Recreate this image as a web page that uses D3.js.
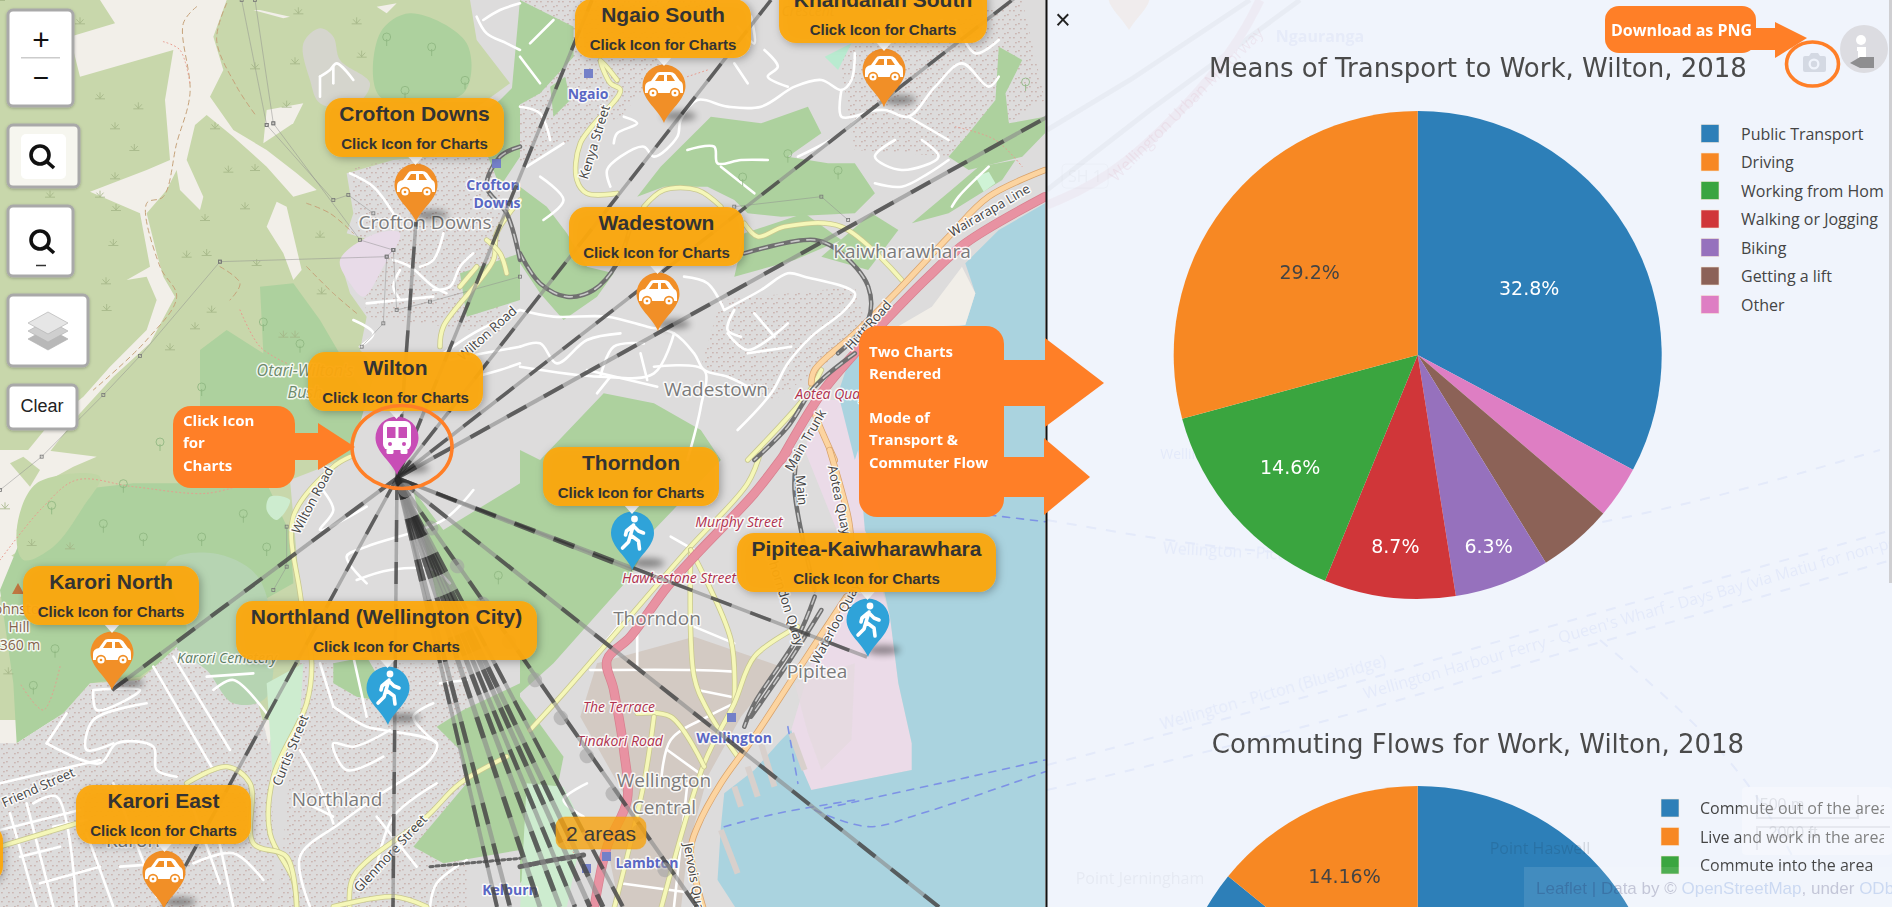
<!DOCTYPE html>
<html><head><meta charset="utf-8">
<script src="https://cdn.jsdelivr.net/npm/d3@7/dist/d3.min.js"></script>
<style>html,body{margin:0;padding:0;background:#fff;overflow:hidden}svg{display:block}text{white-space:pre}</style>
</head><body><svg id="c" width="1892" height="911" viewBox="0 0 1892 911"></svg>
<script>
// ---------- chart values ----------
const transportLabels=["Public Transport","Driving","Working from Home","Walking or Jogging","Biking","Getting a lift","Other"];
const transportValues=[32.8,29.2,14.6,8.7,6.3,4.95,3.45];
const transportSliceOrder=[0,6,5,4,3,2,1];
const transportShown=[true,true,true,true,true,false,false];
const flowLabels=["Commute out of the area","Live and work in the area","Commute into the area"];
const flowValues=[85.84,14.16,0];
const flowSliceOrder=[0,2,1];
const flowShown=[false,true,false];
const sliceColors=["#2d7fb8","#f78823","#3aa53f","#d03639","#9671bd","#8c6257","#de7ec3"];
const areaNames=["Crofton Downs","Ngaio South","Khandallah South","Wadestown","Wilton","Thorndon","Pipitea-Kaiwharawhara","Karori North","Northland (Wellington City)","Karori East"];
const areaModes=["car","car","car","car","bus","walk","walk","car","walk","car"];
const modeColors={car:"#f18f27",bus:"#c84db6",walk:"#2fa3d9"};

// ---------- map scales (tile space to page) ----------
const xW=d3.scaleLinear([0,1560],[0,520]),xE=d3.scaleLinear([0,1568],[520,1045]),yN=d3.scaleLinear([0,1380],[0,460]),yS=d3.scaleLinear([0,1383],[450,911]);
const Q={nw:[xW,yN],ne:[xE,yN],sw:[xW,yS],se:[xE,yS]};
const P=(q,a)=>{const r=[];for(let i=0;i<a.length;i+=2)r.push([Q[q][0](a[i]),Q[q][1](a[i+1])]);return r;};
const svg=d3.select("#c");
const defs=svg.append("defs");
const blur=(id,s)=>{const f=defs.append("filter").attr("id",id).attr("x","-50%").attr("y","-80%").attr("width","200%").attr("height","260%");f.append("feGaussianBlur").attr("stdDeviation",s);};
blur("b4",3.5);
const sh=defs.append("filter").attr("id","ds").attr("x","-20%").attr("y","-30%").attr("width","140%").attr("height","170%");
sh.append("feDropShadow").attr("dx",2).attr("dy",2).attr("stdDeviation",4).attr("flood-color","#000").attr("flood-opacity",.3);
const ctl=defs.append("filter").attr("id","cs").attr("x","-20%").attr("y","-20%").attr("width","140%").attr("height","140%");
ctl.append("feDropShadow").attr("dx",0).attr("dy",1).attr("stdDeviation",1.5).attr("flood-color","#000").attr("flood-opacity",.25);
defs.append("clipPath").attr("id","mapClip").append("rect").attr("width",1047).attr("height",907);
defs.append("clipPath").attr("id","panelClip").append("rect").attr("x",1047).attr("width",845).attr("height",907);
defs.append("clipPath").attr("id","legClip").append("rect").attr("x",1047).attr("width",837).attr("height",907);
const bld=defs.append("pattern").attr("id","bld").attr("width",11).attr("height",9).attr("patternUnits","userSpaceOnUse");
[[1,1],[6,5],[8,1],[3,6]].forEach(d=>bld.append("rect").attr("x",d[0]).attr("y",d[1]).attr("width",1.8).attr("height",1.4).attr("fill","#c4aaa5"));

const map=svg.append("g").attr("clip-path","url(#mapClip)");
map.append("rect").attr("width",1047).attr("height",911).attr("fill","#f2efe9");
const poly=(pts,c,o)=>map.append("path").attr("d",d3.line()(pts)+"Z").attr("fill",c).attr("opacity",o==null?1:o);
const blob=(pts,c,o)=>map.append("path").attr("d",d3.line().curve(d3.curveCatmullRomClosed.alpha(.5))(pts)).attr("fill",c).attr("opacity",o==null?1:o);
const curve=d3.line().curve(d3.curveCatmullRom.alpha(.5));
const road=(pts,c,w,extra)=>{const p=map.append("path").attr("d",curve(pts)).attr("fill","none").attr("stroke",c).attr("stroke-width",w).attr("stroke-linecap","round").attr("stroke-linejoin","round");if(extra)p.attr("stroke-dasharray",extra);return p;};

// land cover
const scrub="#c8d7ab",wood="#add19e",urban="#dddcdc";
map.append("rect").attr("width",560).attr("height",720).attr("fill",scrub);
poly(P('nw',[300,0,680,0,640,110,670,210,630,290,700,390,800,450,890,520,950,570,880,590,800,500,700,410,620,345,585,375,560,480,610,590,600,630,540,570,530,510,500,570,440,640,470,760,490,830,525,890,450,1030,340,1130,240,1240,130,1380,60,1380,150,1270,250,1190,330,1100,440,990,470,900,440,830,380,840,450,800,420,640,270,575,440,510,510,480,495,300,520,150,240,230,210,110,345,70]),"#f2efe9");
poly(P('nw',[800,330,910,310,880,370,790,430]),"#f2efe9");
poly(P('nw',[800,680,830,605,860,620,905,810,880,840,850,760]),"#f2efe9");
poly(P('nw',[780,30,870,50,850,55,760,30]),"#f2efe9");
poly(P('nw',[1130,20,1190,10,1160,40]),"#f2efe9");
poly(P('sw',[0,0,130,0,290,20,220,50,130,100,50,240,60,300,0,340]),"#f2efe9");
poly(P('sw',[0,300,60,330,60,420,0,440]),"#f2efe9");
poly(P('sw',[30,40,70,20,120,60,90,110]),scrub);
// woods
blob(P('nw',[1140,100,1230,40,1400,130,1390,280,1140,290]),wood);
poly(P('nw',[780,860,880,850,960,960,1030,1080,1130,1240,1240,1380,700,1380,600,1330,600,1050,680,990,790,1060]),wood);
poly(P('sw',[140,130,400,100,800,100,870,250,880,400,560,580,420,680,270,700,190,790,50,880,40,700,0,420,70,250,110,190]),wood);
blob(P('sw',[50,240,110,100,300,80,250,170,160,290,70,330]),"#c0d6a5");
// urban
poly([...P('nw',[1410,0]),[1047,0],[1047,911],...P('sw',[810,1383,800,900,900,640,900,430,880,200,870,90,1050,20]),...P('nw',[1130,1100,1080,1050,1100,950,1050,880,1020,780,1180,740,1040,700,1060,640,1040,520,1180,480,1300,470,1420,330,1530,250,1430,120])],urban);
poly(P('sw',[0,880,50,880,190,790,270,700,420,690,530,590,620,660,770,740,810,900,830,1383,0,1383]),urban);
const textured=[P('sw',[0,880,50,880,190,790,270,700,420,690,530,590,620,660,770,740,810,900,830,1383,0,1383]),
 P('sw',[900,640,1400,640,1400,1383,830,1383]),P('ne',[600,900,1000,860,1040,1000,760,1200,540,1100]),P('ne',[0,0,600,0,300,350,0,500]),P('ne',[950,150,1500,0,1568,300,1300,470,1000,450]),P('nw',[1050,500,1500,440,1500,1000,1100,950])];
textured.forEach(t=>poly(t,"url(#bld)",.75));
blob(P('sw',[500,340,640,310,780,390,800,740,700,760,620,660,530,590,560,540]),"#b6d4b2");
poly(P('sw',[800,700,910,640,900,800,820,1000]),"#cdeccf");
blob(P('sw',[810,140,870,150,830,210,800,180]),"#cdeccf");
blob(P('nw',[910,130,960,85,1000,110,1020,180,1110,250,1060,320,960,310,930,240]),"#d5d5cd");
blob(P('nw',[1020,780,1130,700,1200,700,1150,800,1090,890,1050,850]),"#e8dbe8");
// hills over suburbs
const hills=[
 P('ne',[350,590,420,500,570,350,720,370,860,320,900,400,800,470,920,490,1000,490,1060,580,1000,640,780,650,680,640,640,600,560,560,430,560]),
 P('ne',[1430,140,1500,180,1450,280,1460,370,1568,350,1568,400,1500,470,1340,510,1280,470,1340,400,1420,300]),
 P('ne',[1170,670,1300,560,1370,500,1480,480,1440,540,1280,640]),
 P('ne',[0,0,160,80,160,170,60,280,-30,330]),
 P('ne',[90,260,135,230,150,300,100,350]),
 P('ne',[0,560,80,620,140,700,200,800,280,820,230,890,130,960,60,880,0,790]),
 P('ne',[670,700,850,640,960,720,820,780,640,830]),
 P('ne',[1050,640,1130,690,1040,810,900,770]),
 [...P('ne',[60,1380,250,1180,400,1210,540,1290,600,1380]),...P('se',[400,240,330,380,100,640,0,730,0,0])],
 P('sw',[1240,120,1330,240,1560,100,1560,500,1310,440]),
 P('sw',[1310,830,1390,780,1560,700,1560,1200,1330,1240,1240,1190,1400,1000,1380,900]),
 P('se',[0,740,130,920,110,1020,50,1240,0,1300]),
 P('sw',[1000,640,1100,620,1180,760,1070,740,1000,700]),
 P('nw',[1380,820,1560,760,1560,900,1400,950]),
 P('nw',[1420,360,1500,300,1560,240,1560,470,1500,560]),
];
hills.forEach(h=>poly(h,wood));
poly(P('se',[20,1000,130,1010,190,1130,140,1370,0,1383]),"#cdeccf");
poly(P('ne',[910,170,990,130,950,210]),"#b9ebd0");
poly(P('ne',[1360,530,1400,515,1420,550,1385,575]),"#cff3d6");
// cbd, port, water
poly(P('se',[230,640,520,560,780,650,660,800,560,980,500,1200,480,1383,300,1383,260,1190,320,1050,180,800]),"#d3cac3");
poly([...P('ne',[900,1200,1000,1200,1100,1380]),...P('se',[1030,240,1105,500,1130,700,1170,880,1170,960,870,1020,840,950,810,840,870,640,980,440,950,250,850,0])],"#ebdbe8");
poly(P('se',[820,700,1000,640,990,870,900,960,860,850]),"#e4dade",.7);
poly([...P('ne',[1568,610,1430,690,1330,790,1360,880,1330,975,1000,1030,950,1180,1000,1380]),...P('se',[1010,0,1030,240,1060,300,1105,500,1130,700,1170,880,1170,960,870,1020,840,950,810,840,780,870,700,960,610,1030,600,1130,590,1290,650,1383,1568,1383])],"#aad3df");
poly(P('ne',[1320,800,1360,880,1330,975,1120,985,1230,920]),"#f1eee8");
[[720,880,760,1010],[680,950,710,1040],[640,1010,660,1070],[600,1140,650,1270],[810,850,850,960]].forEach(a=>map.append("path").attr("d",d3.line()(P('se',a))).attr("stroke","#d8d0cc").attr("stroke-width",6));

// minor roads
const whiteRoads=[
 ['nw',[960,230,990,210,1010,190,1060,240]],['nw',[960,230,960,290]],['nw',[1000,200,1000,250]],
 ['nw',[1180,780,1230,800,1300,860,1340,880]],['nw',[1330,700,1300,780,1260,800]],['nw',[1100,910,1200,900,1300,890]],['nw',[1200,810,1180,860,1200,900]],['nw',[1420,760,1380,800,1350,860,1300,870]],
 ['nw',[1430,50,1460,100,1520,130,1560,150]],['nw',[1450,60,1500,30,1560,10]],['nw',[1330,1060,1420,1000,1560,930]],['nw',[1350,1080,1450,1060,1560,1040]],['nw',[1430,1130,1500,1110,1560,1090]],['nw',[1050,520,1120,560,1180,640]],['nw',[1060,960,1120,1000,1080,1040]],
 ['ne',[270,560,260,510,300,470,370,440,400,470,470,410,480,360,530,300,620,320,720,320,820,260,900,240,960,270,990,240,1000,160]],
 ['ne',[640,190,680,250]],['ne',[730,150,770,200,740,230,800,260]],['ne',[830,470,960,400,1030,340,1090,330,1160,350,1240,260,1320,190,1400,260,1430,230]],
 ['ne',[1030,340,960,350,960,270]],['ne',[1160,350,1280,420]],['ne',[1120,420,1060,470,1140,510,1250,470,1200,420]],['ne',[500,450,580,440,590,490,660,480,740,480]],['ne',[600,500,700,580]],
 ['ne',[310,350,350,370,290,400,280,430]],['ne',[60,530,130,600,70,660]],['ne',[20,500,130,430]],['ne',[1060,550,1140,560,1220,520,1280,480]],
 ['ne',[0,930,100,950,260,950,380,980,460,1000,520,1060,550,1110,620,1130,700,1170]],['ne',[0,1040,60,1030,110,1090,200,1020,300,1000]],
 ['ne',[610,930,720,870,800,820,850,830,1000,880,970,930,870,1010,800,1090,750,1180,650,1290]],['ne',[810,1040,680,1060]],['ne',[400,1100,550,1110,540,1220,500,1380]],
 ['ne',[460,1000,400,1120,240,1130,0,1100]],['ne',[240,1130,280,1040,370,1030]],['ne',[490,830,560,850,610,930]],['ne',[640,930,620,990,660,1010]],
 ['ne',[0,170,60,250]],['ne',[0,320,60,340,90,420]],['ne',[1400,500,1310,590,1290,620]],
 ['ne',[620,1000,680,1050,800,970]],['ne',[700,940,760,1010]],['ne',[360,1060,380,1140]],['ne',[200,1110,410,1160]],['ne',[270,1130,230,1180]],['ne',[30,130,100,60]],['ne',[1300,60,1360,160,1430,120]],['ne',[1100,60,1180,110,1260,60]],['ne',[650,80,700,130,690,50]],
 ['sw',[140,880,200,790]],['sw',[280,720,420,720,290,780,280,720]],['sw',[440,760,280,810,260,900,340,880]],['sw',[140,880,300,940,350,880,460,890,470,960,530,980]],['sw',[0,1000,300,930]],
 ['sw',[460,650,640,960]],['sw',[520,620,690,900]],['sw',[30,1090,110,1370]],['sw',[80,1060,160,1370]],['sw',[100,1060,170,1040,230,1370]],['sw',[260,1150,340,1370]],['sw',[650,1140,700,1370]],['sw',[620,680,760,670]],['sw',[640,720,700,690,800,790]],['sw',[0,1140,240,1080]],['sw',[360,1250,500,1240]],['sw',[580,1240,700,1210,790,1290]],
 ['sw',[560,1020,660,1300]],['sw',[160,1130,260,1110]],['sw',[60,1220,180,1190]],['sw',[120,1300,300,1250]],['sw',[340,1000,470,1340]],
 ['sw',[1000,770,1100,830,1150,840,1310,880,1290,930,1130,1040,1020,1120,900,1220,930,1370]],['sw',[1170,840,1060,890,1000,880,1040,960,1150,920]],['sw',[900,900,950,990,1000,1120]],['sw',[1300,760,1240,800,1310,880]],
 ['sw',[960,640,1000,770]],['sw',[1060,620,1100,800]],['sw',[1310,1000,1180,1100,1130,1250]],['sw',[900,1050,1000,1100]],['sw',[1130,1100,1250,1250]],
 ['sw',[1420,120,1330,210,1100,290,1040,320,1100,400]],['sw',[1070,390,1170,360,1300,360,1350,400]],['sw',[960,110,1000,180,960,240,1100,170]],['sw',[1320,700,1400,690]],['sw',[1400,1230,1310,1300,1290,1370]],
 ['se',[210,660,520,660,640,665]],['se',[350,540,350,660]],['se',[520,530,640,580]],['se',[530,720,630,740]],['se',[640,760,560,800,450,870,420,1010]],['se',[440,900,550,980]],['se',[500,1000,460,1370]],['se',[300,1300,520,1330]],['se',[200,1000,130,1050,190,1100]],['se',[450,260,520,300]],['se',[220,620,300,520]]
];
whiteRoads.forEach(r=>road(P(r[0],r[1]),"#fff",2.6));

// field paths and power lines
const tracks=[['nw',[680,10,650,120,710,260,770,350]],['nw',[590,20,550,70,570,280,530,430,490,590,440,610,480,800,530,890,440,1020,280,1170]],['nw',[660,800,720,850,690,900]],['nw',[920,610,990,640,1060,700]],['nw',[920,800,1000,880,1070,940]]];
tracks.forEach(t=>road(P(t[0],t[1]),"#c6a27a",1,"5 4"));
const redPaths=[['nw',[490,125,540,150,570,250]],['nw',[720,930,780,1040,860,1090]],['sw',[0,330,130,170,230,90,400,110,620,130,740,100]],['sw',[180,650,130,780,60,700]],['ne',[1300,380,1420,420,1500,500]],['ne',[500,230,560,210]],['se',[100,1130,200,1260]]];
redPaths.forEach(t=>road(P(t[0],t[1]),"#e99a8e",1,"1 3"));
const powerLines=[['nw',[725,0,800,375]],['nw',[765,0,820,370]],['nw',[820,370,1080,720,1180,750]],['nw',[800,375,1000,600,1045,585,1120,640]],['nw',[660,785,1160,770,1180,750]],['nw',[660,785,420,1068,310,1185,125,1370,0,1470]],['nw',[1180,750,1190,930,1290,905,1560,830]],['nw',[1160,770,1150,970,1085,1040]],['ne',[640,620,900,590,980,660]],['sw',[860,230,860,350,820,420]]];
powerLines.forEach(l=>{const pp=P(l[0],l[1]);map.append("path").attr("d",d3.line()(pp)).attr("fill","none").attr("stroke","#8d8d8d").attr("opacity",.6).attr("stroke-width",.8);
 map.selectAll(null).data(pp).enter().append("rect").attr("x",d=>d[0]-1.5).attr("y",d=>d[1]-1.5).attr("width",3).attr("height",3).attr("fill","none").attr("stroke","#777").attr("stroke-width",.8);});
// vegetation glyphs
const grass=P('nw',[300,295,415,325,345,385,403,450,345,535,348,630,300,590,150,590,340,735,320,930,318,850,560,770,620,765,615,660,735,625,685,515,765,510,645,385,765,205,885,190,1085,170,1070,70,895,40,240,70,770,795,510,1048,585,985,635,935,965,880,885,1010,960,710,860,320,850,1010,885]).concat(P('sw',[15,175,95,285,210,295,25,670]));
map.selectAll(null).data(grass).enter().append("path").attr("transform",d=>`translate(${d})`).attr("d","M0,0V-6M0,0L-3.5,-4M0,0L3.5,-4M-5,.5H5").attr("stroke","#a3b587").attr("stroke-width",.8).attr("fill","none");
const trees=P('nw',[1160,120,1295,150,1395,250,1215,280,790,975,900,1040,605,1170,480,1335]).concat(P('sw',[370,110,155,175,430,270,605,270,730,200,800,300,1495,385,165,605,100,715,310,230])).concat(P('ne',[1510,255,950,520,800,470,665,540]));
map.selectAll(null).data(trees).enter().append("path").attr("transform",d=>`translate(${d})`).attr("d","M0,6V-1M-4,-3a4,4 0 1 1 8,0a4,4 0 1 1 -8,0").attr("stroke","#8db57f").attr("stroke-width",.8).attr("fill","none");

// secondary, trunk, motorway, rail
const yellowRoads=[
 ['sw',[1050,20,1000,50,880,200,900,430,935,640,920,760,820,980,810,1150,880,1290,890,1370]],['sw',[1520,920,1380,1000,1280,1100,1060,1280,1050,1380]],
 ['sw',[0,1190,230,1120]],['sw',[560,1000,680,950,750,1000,760,1180,860,1220,890,1370]],['sw',[1000,1370,1180,1340,1280,1370]],
 ['ne',[290,240,240,180,270,250,300,270,180,430,170,540,200,580,290,580]],['ne',[370,620,430,570,530,570,600,620]],['ne',[670,670,710,710,790,680,960,680,1140,840]],
 ['se',[720,0,680,100,500,300,130,730,30,840]],['se',[510,300,520,680,560,780,650,920]],['se',[510,300,630,570,640,760]],['se',[830,530,700,620,640,760,550,940,420,1380]],['se',[350,790,450,800,550,950]],['se',[400,800,370,1000,280,1380]],
 ['ne',[680,1380,860,1180,900,1110]],['nw',[1560,600,1490,700,1480,780,1330,980,1320,1040]],['nw',[1380,860,1430,800]],['nw',[1460,720,1500,760,1520,820]],
];
yellowRoads.forEach(r=>{road(P(r[0],r[1]),"#c9c88f",5.4);road(P(r[0],r[1]),"#f5f7b8",3.8);});
const trunks=[['ne',[1568,510,1400,590,1280,710,1130,870,1000,1000,880,1110,870,1150]],['ne',[880,1240,900,1290,940,1380]],['se',[925,0,980,200,990,280]],['se',[975,440,850,630,700,860,600,1000,530,1130,510,1200,550,1383]]];
trunks.forEach(r=>{road(P(r[0],r[1]),"#d9a36b",6.5);road(P(r[0],r[1]),"#fcd4a0",5);});
const motorway=[...P('ne',[1568,590,1330,730,1220,830,1150,900,1000,1060,900,1180,780,1380]),...P('se',[800,0,700,130,530,310,440,410,330,560,260,630,280,720,310,900,320,1050,260,1190,220,1383])];
road(motorway,"#d8808f",9.5);road(motorway,"#e892a2",8);
const rails=[['ne',[0,760,60,850,140,890,220,870,290,790,330,680]],['ne',[670,760,880,720,960,760,1040,860,1040,960,950,1060]],['nw',[1560,440,1500,470,1460,560,1520,640,1560,780]],['ne',[1000,1060,880,1160,800,1280,700,1380]],['se',[880,440,830,560,700,760,670,830]],['se',[900,480,800,640,690,800]],['se',[830,0,820,120,880,420]]];
rails.forEach(r=>{road(P(r[0],r[1]),"#707070",4.5);road(P(r[0],r[1]),"#c9c9c9",1.6,"8 8");});
road(P('sw',[1290,1250,1560,1225]),"#666",3,"3 3");
road(P('se',[0,1250,100,1230,190,1215]),"#666",5,"4 3");
// ferries in harbour
[[1400,195,1568,215],[610,1130,770,1090,1000,1050],[910,1075,1300,990,1568,930],[880,1080,1040,1130,1200,1090,1568,965],[800,830,830,1000]].forEach(a=>road(P('se',a),"#7d92e6",1.6,"7 7"));

// place names
const tx=(g,s,x,y,o)=>{o=o||{};const t=g.append("text").attr("x",x).attr("y",y).attr("text-anchor",o.a||"middle").attr("dominant-baseline","central").attr("font-family",o.f||"'Open Sans',sans-serif").attr("font-size",o.s||18).attr("fill",o.c||"#777").attr("font-weight",o.w||400).text(s);if(o.i)t.attr("font-style","italic");if(o.r)t.attr("transform",`rotate(${o.r} ${x} ${y})`);if(o.h)t.attr("stroke",o.h).attr("stroke-width",3).attr("paint-order","stroke").attr("stroke-linejoin","round");if(o.o!=null)t.attr("opacity",o.o);return t;};
const H="rgba(255,255,255,.85)";
[["Crofton Downs",425,222],["Wadestown",716,389],["Kaiwharawhara",902,251],["Thorndon",657,618],["Pipitea",817,671],["Wellington",664,780],["Central",664,807],["Northland",337,799],["Karori",133,840]].forEach(d=>tx(map,d[0],d[1],d[2],{h:H,s:19,c:"#7b7b7b"}));
[["Ngaio",588,93],["Crofton",493,184],["Downs",497,202],["Wellington",734,737],["Lambton",647,862],["Kelburn",510,889]].forEach(d=>tx(map,d[0],d[1],d[2],{c:"#5a67c4",s:14,w:700,h:H}));
[["Hawkestone Street",679,577,0],["Murphy Street",739,521,0],["The Terrace",619,706,0],["Tinakori Road",620,740,0],["Aotea Quay",831,393,0]].forEach(d=>tx(map,d[0],d[1],d[2],{c:"#b0324f",s:14,i:1,h:H,r:d[3]}));
[["Kenya Street",594,142,-73],["Wilton Road",487,333,-42],["Wilton Road",312,500,-62],["Hutt Road",868,325,-48],["Wairarapa Line",989,210,-30],["Waterloo Quay",835,623,-62],["Thorndon Quay",786,600,72],["Aotea Quay",840,500,78],["Curtis Street",290,750,-68],["Friend Street",38,787,-24],["Glenmore Street",390,853,-47],["Jervois Quay",695,880,80],["Main Trunk",805,440,-60],["Main",802,490,85]].forEach(d=>tx(map,d[0],d[1],d[2],{c:"#444",s:13,h:H,r:d[3]}));
tx(map,"Karori Cemetery",227,657,{c:"#5e7d64",s:14,i:1,h:H});
tx(map,"Otari-Wilton's",305,370,{c:"#6d8a6c",s:16,i:1,h:H});
tx(map,"Bush",305,392,{c:"#6d8a6c",s:16,i:1,h:H});
tx(map,"Crescent",808,10,{c:"#777",s:14,i:1});
tx(map,"Johnston",19,608,{c:"#85634c",s:14,h:H});tx(map,"Hill",19,626,{c:"#85634c",s:14,h:H});tx(map,"360 m",20,644,{c:"#85634c",s:14,h:H});
map.append("path").attr("d","M18,583l6,11h-12z").attr("fill","#bf7640");
[[588,73],[496,163],[731,717],[586,868],[606,856]].forEach(d=>map.append("rect").attr("x",d[0]-4).attr("y",d[1]-4).attr("width",9).attr("height",9).attr("fill","#7480c8"));

// ---------- commuter flow lines ----------
const origin=[397,478];
const flowEnds=[[416,222,3.5],[592,0,3.5],[771,0,3.5],[1047,-27,3.5],[1047,117,4],[632,570,4],[867,657,3.5],[112,690,4],[163,907,3.5],[393,907,3.5],[939,907,4],
 [497,907,4],[510,907,4.5],[540,907,5],[560,907,5],[575,907,4.5],[590,907,5],[603,907,5],[623,907,4],[697,907,4]];
const flows=map.append("g");
const link=d=>d3.line()([origin,[d[0],d[1]]]);
flows.selectAll(".a").data(flowEnds).enter().append("path").attr("d",link).attr("stroke","#8a8a8a").attr("stroke-opacity",.62).attr("stroke-width",d=>d[2]).attr("fill","none");
flows.selectAll(".b").data(flowEnds).enter().append("path").attr("d",link).attr("stroke","#2c2c2c").attr("stroke-opacity",.6).attr("stroke-width",d=>d[2]).attr("stroke-dasharray","22 20").attr("fill","none");
const wideFlow=[690,907,14];
flows.append("path").attr("d",link(wideFlow)).attr("stroke","#a0a0a0").attr("stroke-opacity",.55).attr("stroke-width",wideFlow[2]).attr("stroke-linecap","round").attr("stroke-dasharray","1 45").attr("stroke-dashoffset",-60).attr("fill","none");

// ---------- pins ----------
const pinTips=[[416,222],[664,123],[884,107],[658,331],[397,475],[632.5,570],[868,657],[112,690],[388,725],[164,909]];
const pinPath="M0,0C-5,-13 -21.5,-23 -21.5,-37A21.5,21.5 0 1 1 21.5,-37C21.5,-23 5,-13 0,0Z";
const pins=map.append("g");
pins.selectAll(".s").data(pinTips).enter().append("ellipse").attr("cx",d=>d[0]+15).attr("cy",d=>d[1]-7).attr("rx",17).attr("ry",4.5).attr("fill","#000").attr("opacity",.42).attr("filter","url(#b4)");
const icon={
 car:(g,c)=>{g.append("path").attr("d","M-19,7V1Q-19,-4 -13,-5L-8,-12Q-7,-14 -4,-14H6Q9,-14 11,-12L16,-5Q19,-4 19,1V7Z").attr("fill","#fff");
  g.append("path").attr("d","M-9,-5L-5,-11H0V-5ZM3,-5V-11H7L11,-5Z").attr("fill",c);
  [-11,11].forEach(x=>{g.append("circle").attr("cx",x).attr("cy",7).attr("r",5.2).attr("fill",c);g.append("circle").attr("cx",x).attr("cy",7).attr("r",3.6).attr("fill","#fff");g.append("circle").attr("cx",x).attr("cy",7).attr("r",1.3).attr("fill",c);});},
 bus:(g,c)=>{g.append("rect").attr("x",-14).attr("y",-17).attr("width",28).attr("height",29).attr("rx",6).attr("fill","#fff");
  g.append("rect").attr("x",-10).attr("y",-11).attr("width",8.5).attr("height",11).attr("fill",c);g.append("rect").attr("x",1.5).attr("y",-11).attr("width",8.5).attr("height",11).attr("fill",c);
  [-7,7].forEach(x=>{g.append("circle").attr("cx",x).attr("cy",6).attr("r",2).attr("fill",c);g.append("rect").attr("x",x-3.5).attr("y",11).attr("width",7).attr("height",5).attr("rx",1.5).attr("fill","#fff");});},
 walk:(g,c)=>{g.append("circle").attr("cx",2).attr("cy",-14).attr("r",3.4).attr("fill","#fff");
  g.append("path").attr("d","M1,-8L-2,2L6,8L7,16M-2,2L-4,9L-10,15M0,-7L-6,-2L-7,2M1,-7L6,-2L11,0").attr("fill","none").attr("stroke","#fff").attr("stroke-width",3.6).attr("stroke-linecap","round").attr("stroke-linejoin","round");}
};
pinTips.forEach((t,i)=>{const g=pins.append("g").attr("transform",`translate(${t})`);const c=modeColors[areaModes[i]];
 g.append("path").attr("d",pinPath).attr("fill",c);
 const k=g.append("g").attr("transform","translate(0,-37)");icon[areaModes[i]](k,c);});

// ---------- name bubbles ----------
const bubbleBoxes=[[325,98,179],[575,-1,176],[779,-16,208],[569,207,175],[308,352,175],[543,447,176],[737,533,259],[23,566,176],[236,601,301],[76,785,175]];
const bubbles=map.append("g");
bubbleBoxes.forEach((b,i)=>{const g=bubbles.append("g");const cx=b[0]+b[2]/2;
 g.append("path").attr("d",`M${cx-7},${b[1]+58}L${cx+1},${b[1]+67}L${cx+9},${b[1]+58}Z`).attr("fill","#fff");
 g.append("rect").attr("x",b[0]).attr("y",b[1]).attr("width",b[2]).attr("height",59).attr("rx",17).attr("fill","#fca80d").attr("fill-opacity",.95).attr("filter","url(#ds)");
 tx(g,areaNames[i],cx,b[1]+15.5,{f:"'Liberation Sans',Arial,sans-serif",s:21,w:700,c:"#333"});
 tx(g,"Click Icon for Charts",cx,b[1]+45,{f:"'Liberation Sans',Arial,sans-serif",s:15,w:700,c:"#333"});
});
bubbles.append("rect").attr("x",-170).attr("y",824).attr("width",173).attr("height",59).attr("rx",17).attr("fill","#fca80d").attr("fill-opacity",.95).attr("filter","url(#ds)");
const cluster=bubbles.append("g");
cluster.append("rect").attr("x",556).attr("y",817).attr("width",90).attr("height",32).attr("rx",9).attr("fill","#f6a313").attr("fill-opacity",.82).attr("stroke","#f6a313").attr("stroke-opacity",.5);
tx(cluster,"2 areas",601,833,{f:"'Liberation Sans',Arial,sans-serif",s:21,c:"#3a3a3a"});

// ---------- map controls ----------
const controls=svg.append("g");
const box=(x,y,w,h,f)=>controls.append("rect").attr("x",x).attr("y",y).attr("width",w).attr("height",h).attr("rx",5).attr("fill",f||"#fff").attr("stroke","#a9a9a9").attr("stroke-width",3).attr("filter","url(#cs)");
box(8,10,65,96);
tx(controls,"+",41,39,{f:"'Liberation Sans',Arial,sans-serif",s:30,c:"#111"});
tx(controls,"−",41,77,{f:"'Liberation Sans',Arial,sans-serif",s:28,c:"#111"});
controls.append("path").attr("d","M21,57.7H60").attr("stroke","#ccc").attr("stroke-width",1.5);
box(8,125,71,62,"#f6f6ef");
controls.append("rect").attr("x",21).attr("y",134).attr("width",45).attr("height",45).attr("rx",5).attr("fill","#fff");
box(8,206,65,70);
const glass=(x,y)=>controls.append("path").attr("d",`M${x+3},${y+3}L${x+12},${y+11}M${x+7},${y-2}a9,9 0 1 1 -18,0a9,9 0 1 1 18,0`).attr("fill","none").attr("stroke","#111").attr("stroke-width",3.6);
glass(42,157);glass(42,242);
controls.append("path").attr("d","M36,265.5H46").attr("stroke","#333").attr("stroke-width",1.5);
box(8,295,80,71);
const layer=controls.append("g");
[[339,"#b8b8b8"],[331,"#cfcfcf"],[323,"#e6e6e6"]].forEach(d=>layer.append("path").attr("d",`M28,${d[0]}L48,${d[0]-11}L68,${d[0]}L48,${d[0]+11}Z`).attr("fill",d[1]).attr("stroke","#b5b5b5").attr("stroke-width",.7));
box(8,385,69,44);
tx(controls,"Clear",42,406,{f:"'Liberation Sans',Arial,sans-serif",s:18,c:"#222"});

// ---------- side panel ----------
const panel=svg.append("g").attr("clip-path","url(#panelClip)");
panel.append("rect").attr("x",1047).attr("width",845).attr("height",911).attr("fill","#f0f4fc");
// map ghost under the translucent panel
const ghost=panel.append("g").attr("opacity",.04);
[[[1047,130],[1130,80],[1250,0]],[[1047,190],[1150,110],[1300,0]]].forEach(a=>ghost.append("path").attr("d",d3.line()(a)).attr("fill","none").attr("stroke","#444").attr("stroke-width",5));
ghost.append("path").attr("d",d3.line().curve(d3.curveBasis)([[1047,205],[1120,175],[1230,60],[1260,0]])).attr("fill","none").attr("stroke","#c03050").attr("stroke-width",9);
panel.append("path").attr("d","M1129,30C1120,15 1108,8 1108,-5A21,21 0 1 1 1150,-5C1150,8 1138,15 1129,30Z").attr("fill","#f18f27").attr("opacity",.07);
const g2=panel.append("g").attr("opacity",.06);
const gtxt=(s,x,y,o)=>tx(g2,s,x,y,Object.assign({c:"#556",s:16},o||{}));
gtxt("Ngauranga",1320,36,{w:700,c:"#5a67c4"});
gtxt("SH 1",1085,176,{c:"#999"});
g2.append("rect").attr("x",1062).attr("y",164).attr("width",46).attr("height",24).attr("rx",4).attr("fill","none").attr("stroke","#aaa");
gtxt("Wellington Urban Motorway",1186,104,{r:-45,c:"#c03050",s:16});
gtxt("Wellington - Picton (Interislander)",1287,554,{r:3,c:"#3355dd",s:16});
gtxt("Wellington - Picton (Bluebridge)",1273,692,{r:-16,c:"#3355dd",s:16});
gtxt("Wellington Harbour Ferry - Queen's Wharf - Days Bay (via Matiu for non-pe",1630,617,{r:-16,c:"#3355dd",s:16});
gtxt("Wellington",1195,453,{s:14,c:"#3355dd"});
[[[1047,520],[1250,555],[1400,555],[1640,520],[1880,450]],[[1047,765],[1300,700],[1500,640],[1892,530]],[[1047,790],[1300,730],[1500,670],[1892,560]],[[1600,640],[1740,760],[1800,870]]].forEach(a=>g2.append("path").attr("d",d3.line().curve(d3.curveBasis)(a)).attr("fill","none").attr("stroke","#3355dd").attr("stroke-width",2).attr("stroke-dasharray","10 10"));
gtxt("Point Jerningham",1140,878);

const pie=(labels,values,order,shown,cy,lx,ly,tx0,fracs)=>{
 const gp=panel.append("g").attr("transform",`translate(1417.7,${cy})`);
 const R=244;
 const arcs=d3.pie().sort(null).value(i=>values[i])(order);
 const arc=d3.arc().innerRadius(0).outerRadius(R);
 gp.selectAll("path").data(arcs).enter().append("path").attr("d",arc).attr("fill",d=>sliceColors[d.data]);
 arcs.forEach((a)=>{const i=a.data;if(!shown[i])return;const r=fracs[i]*R,m=(a.startAngle+a.endAngle)/2;
  const label=(values[i]%1&&String(values[i]).split(".")[1].length>1)?values[i].toFixed(2):values[i].toFixed(1);
  tx(gp,label+"%",Math.sin(m)*r,-Math.cos(m)*r,{f:"'DejaVu Sans',Verdana,sans-serif",s:19,c:i===1?"#444":"#fff"});});
 const lg=panel.append("g").attr("clip-path","url(#legClip)");
 labels.forEach((s,i)=>{const y=ly+i*28.5;
  lg.append("rect").attr("x",lx).attr("y",y-9).attr("width",18).attr("height",18).attr("fill",sliceColors[i]).attr("stroke","#f5e6d8").attr("stroke-width",.6);
  tx(lg,s,tx0,y,{a:"start",f:"'Open Sans',sans-serif",s:16,c:"#444"});});
};
const labelFracsA=[.533,.558,.697,.79,.836,0,0];
const labelFracsB=[0,.697,0];
pie(transportLabels,transportValues,transportSliceOrder,transportShown,355,1701,133.5,1741,labelFracsA);
pie(flowLabels,flowValues,flowSliceOrder,flowShown,1030,1661,808,1700,labelFracsB);
tx(panel,"Means of Transport to Work, Wilton, 2018",1478,68,{f:"'DejaVu Sans',Verdana,sans-serif",s:26,c:"#4a4a4a"});
tx(panel,"Commuting Flows for Work, Wilton, 2018",1478,744,{f:"'DejaVu Sans',Verdana,sans-serif",s:26,c:"#4a4a4a"});
tx(panel,"×",1063,20,{f:"'Liberation Sans',Arial,sans-serif",s:27,c:"#222"});
// leaflet scale and attribution seen through the panel
const over=panel.append("g");
over.append("rect").attr("x",1742).attr("y",787).attr("width",150).attr("height",68).attr("rx",4).attr("fill","#fff").attr("opacity",.32);
over.append("path").attr("d","M1757,795V818H1858V795M1757,850V827H1890").attr("fill","none").attr("stroke","#667").attr("stroke-opacity",.1).attr("stroke-width",2);
tx(over,"500 m",1782,804,{f:"'Liberation Sans',Arial,sans-serif",s:16,c:"#667",o:.15});
tx(over,"2000 ft",1793,832,{f:"'Liberation Sans',Arial,sans-serif",s:16,c:"#667",o:.15});
tx(over,"Point Haswell",1540,848,{s:16,c:"#123",o:.14});
over.append("rect").attr("x",1524).attr("y",867).attr("width",368).attr("height",40).attr("fill","#fff").attr("opacity",.1);
const attr=tx(over,"",1536,888,{a:"start",f:"'Liberation Sans',Arial,sans-serif",s:17,c:"#225",o:.22});
attr.append("tspan").text("Leaflet | Data by © ");attr.append("tspan").attr("fill","#47c").text("OpenStreetMap");attr.append("tspan").text(", under ");attr.append("tspan").attr("fill","#47c").text("ODbL");
// plot toolbar
const bar=panel.append("g");
bar.append("path").attr("d","M1805,56h4l2,-3h7l2,3h4q2,0 2,2v12q0,2 -2,2h-19q-2,0 -2,-2v-12q0,-2 2,-2Z").attr("fill","#d4d9e3");
bar.append("circle").attr("cx",1814).attr("cy",64).attr("r",5.5).attr("fill","#f0f4fc");bar.append("circle").attr("cx",1814).attr("cy",64).attr("r",3.2).attr("fill","#d4d9e3");
bar.append("circle").attr("cx",1864).attr("cy",49).attr("r",24).attr("fill","#dcdce1");
bar.append("circle").attr("cx",1861).attr("cy",40).attr("r",5).attr("fill","#fff");
bar.append("path").attr("d","M1857,47H1866V60H1870V64H1855V60H1858V51H1857Z").attr("fill","#fff");
bar.append("path").attr("d","M1850,63L1860,57H1874V68H1860Z").attr("fill","#8e8e90");
panel.append("rect").attr("x",1889).attr("width",3).attr("height",583).attr("fill","#cfcfd2");
svg.append("rect").attr("x",1045.5).attr("width",2).attr("height",909).attr("fill","#111");

// ---------- orange annotations ----------
const ann="#ff7f27",note=svg.append("g");
const rr=(x,y,w,h,r)=>note.append("rect").attr("x",x).attr("y",y).attr("width",w).attr("height",h).attr("rx",r).attr("fill",ann);
const tri=a=>note.append("path").attr("d",d3.line()(a)+"Z").attr("fill",ann);
rr(173,406,122,82,18);rr(290,433,30,27,0);tri([[318,423],[355,447],[318,470]]);
rr(859,326,145,191,18);rr(1000,360,47,46,0);rr(1000,457,47,40,0);
tri([[1045,338],[1104,383],[1045,427]]);tri([[1044,438],[1090,477],[1044,515]]);
rr(1605,6,151,47,14);rr(1750,28,26,22,0);tri([[1775,22],[1807,38],[1775,58]]);
note.selectAll(".ring").data([[402,447,50,41.5],[1812.5,64,26,22]]).enter().append("ellipse").attr("cx",d=>d[0]).attr("cy",d=>d[1]).attr("rx",d=>d[2]).attr("ry",d=>d[3]).attr("fill","none").attr("stroke",ann).attr("stroke-width",3.6);
const W={f:"'Open Sans',sans-serif",s:15,w:700,c:"#fff",a:"start"};
[["Click Icon",183,420],["for",183,442],["Charts",183,465],["Two Charts",869,351],["Rendered",869,373],["Mode of",869,417],["Transport &",869,439],["Commuter Flow",869,462]].forEach(d=>tx(note,d[0],d[1],d[2],W));
tx(note,"Download as PNG",1611,30,Object.assign({},W,{s:16}));
// page strip under the frame
svg.append("rect").attr("y",907).attr("width",1892).attr("height",4).attr("fill","#fff");
</script></body></html>
